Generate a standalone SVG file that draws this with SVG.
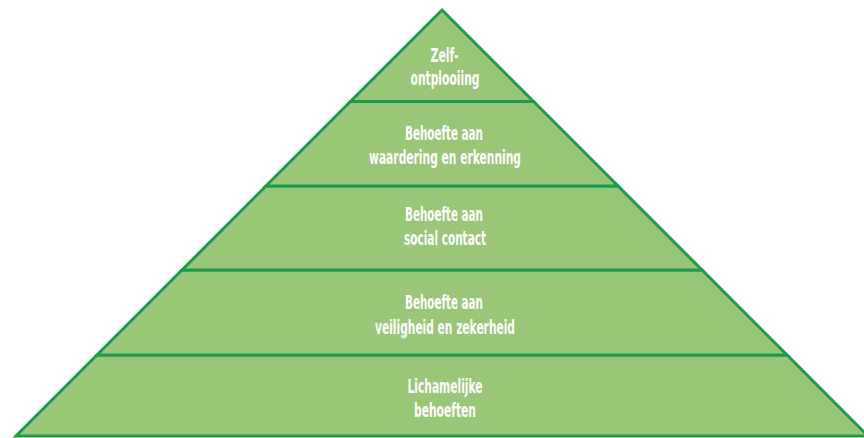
<svg xmlns="http://www.w3.org/2000/svg" width="864" height="438" viewBox="0 0 864 438">
<style>
.tier{fill:#9ac678;stroke:#1a9d4c;stroke-width:3;stroke-linejoin:miter}
.lbl{font-family:"DejaVu Sans Condensed","Liberation Sans",sans-serif;font-size:19.5px;fill:#ffffff;text-anchor:middle;font-weight:bold}
</style>
<rect width="864" height="438" fill="#ffffff"/>
<g id="tier5">
<polygon class="tier" points="97,355 787,355 868,436 16,436"/>
<text class="lbl" x="445" y="393" textLength="75" lengthAdjust="spacingAndGlyphs">Lichamelijke</text>
<text class="lbl" x="445" y="417" textLength="62" lengthAdjust="spacingAndGlyphs">behoeften</text>
</g>
<g id="tier4">
<polygon class="tier" points="182,270 702,270 787,355 97,355"/>
<text class="lbl" x="444" y="309" textLength="78" lengthAdjust="spacingAndGlyphs">Behoefte aan</text>
<text class="lbl" x="445" y="334" textLength="140" lengthAdjust="spacingAndGlyphs">veiligheid en zekerheid</text>
</g>
<g id="tier3">
<polygon class="tier" points="266,186 618,186 702,270 182,270"/>
<text class="lbl" x="444" y="221" textLength="78" lengthAdjust="spacingAndGlyphs">Behoefte aan</text>
<text class="lbl" x="445" y="245" textLength="82" lengthAdjust="spacingAndGlyphs">social contact</text>
</g>
<g id="tier2">
<polygon class="tier" points="350.5,101.5 533.5,101.5 618,186 266,186"/>
<text class="lbl" x="444" y="140" textLength="78" lengthAdjust="spacingAndGlyphs">Behoefte aan</text>
<text class="lbl" x="445" y="164" textLength="152" lengthAdjust="spacingAndGlyphs">waardering en erkenning</text>
</g>
<g id="tier1">
<polygon class="tier" points="442,10 533.5,101.5 350.5,101.5"/>
<text class="lbl" x="444.5" y="62" textLength="28" lengthAdjust="spacingAndGlyphs">Zelf-</text>
<text class="lbl" x="445" y="85" textLength="69" lengthAdjust="spacingAndGlyphs">ontplooiing</text>
</g>
<g id="connectors"></g>
</svg>
